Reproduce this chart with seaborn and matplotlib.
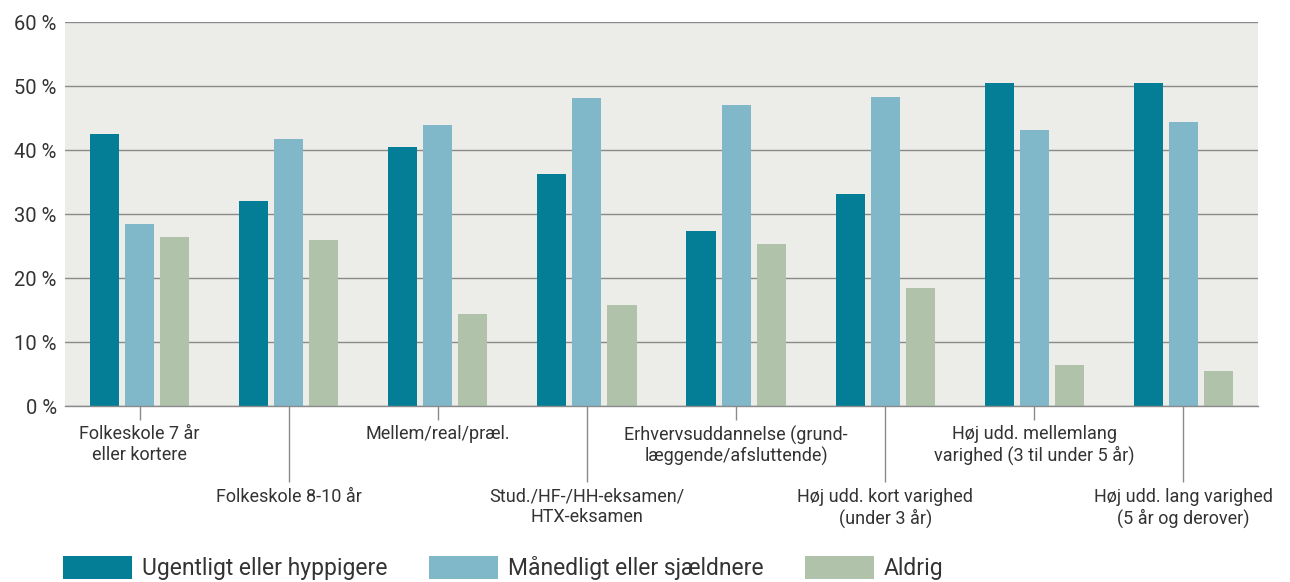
import matplotlib
matplotlib.use("Agg")
import matplotlib.pyplot as plt
import seaborn as sns
import pandas as pd
from matplotlib.ticker import FixedLocator

# Education levels (x categories)
categories = [
    "Folkeskole 7 år\neller kortere",
    "Folkeskole 8-10 år",
    "Mellem/real/præl.",
    "Stud./HF-/HH-eksamen/\nHTX-eksamen",
    "Erhvervsuddannelse (grund-\nlæggende/afsluttende)",
    "Høj udd. kort varighed\n(under 3 år)",
    "Høj udd. mellemlang\nvarighed (3 til under 5 år)",
    "Høj udd. lang varighed\n(5 år og derover)",
]

series_names = ["Ugentligt eller hyppigere", "Månedligt eller sjældnere", "Aldrig"]

ugentligt = [42.5, 32.0, 40.4, 36.2, 27.3, 33.1, 50.4, 50.4]
maanedligt = [28.5, 41.7, 43.9, 48.2, 47.0, 48.3, 43.1, 44.4]
aldrig = [26.4, 25.9, 14.4, 15.8, 25.3, 18.5, 6.4, 5.4]

y_ticks = [0, 10, 20, 30, 40, 50, 60]
y_tick_labels = ["0 %", "10 %", "20 %", "30 %", "40 %", "50 %", "60 %"]

colors = ["#037E96", "#80B8CA", "#B0C3AA"]

rows = []
for name, vals in zip(series_names, [ugentligt, maanedligt, aldrig]):
    for cat, v in zip(categories, vals):
        rows.append({"Uddannelse": cat, "Andel": v, "Hyppighed": name})
df = pd.DataFrame(rows)

sns.set_theme(style="white")
plt.rcParams["font.family"] = ["Roboto", "DejaVu Sans"]
text_color = "#333333"
grid_color = "#8a8a8a"

fig = plt.figure(figsize=(12.9, 5.82), dpi=100)
ax = fig.add_axes([65 / 1290, 1 - 406 / 582, (1258 - 65) / 1290, (406 - 22) / 582])
ax.set_facecolor("#ECECE8")

sns.barplot(
    data=df, x="Uddannelse", y="Andel", hue="Hyppighed",
    order=categories, hue_order=series_names, palette=colors,
    width=0.705, gap=0.17, ax=ax, saturation=1, linewidth=0,
)

handles, labels = ax.get_legend_handles_labels()
if ax.get_legend() is not None:
    ax.get_legend().remove()

ax.set_xlim(-0.5, len(categories) - 0.5)
ax.set_ylim(0, 60)
ax.set_yticks(y_ticks)
ax.set_yticklabels(y_tick_labels)
ax.yaxis.grid(True, color=grid_color, linewidth=1.0)
ax.xaxis.grid(False)
ax.set_axisbelow(True)
for side in ["left", "right", "top"]:
    ax.spines[side].set_visible(False)
ax.spines["bottom"].set_color(grid_color)
ax.spines["bottom"].set_linewidth(1.0)
ax.set_xlabel("")
ax.set_ylabel("")

ax.tick_params(axis="y", length=0, pad=6, labelsize=14.5, labelcolor=text_color)

# Alternate short and long ticks so the category labels sit on two rows
even_idx = list(range(0, len(categories), 2))
odd_idx = list(range(1, len(categories), 2))
ax.xaxis.set_major_locator(FixedLocator(even_idx))
ax.xaxis.set_minor_locator(FixedLocator(odd_idx))
ax.set_xticklabels([categories[i] for i in even_idx])
ax.set_xticklabels([categories[i] for i in odd_idx], minor=True)
ax.tick_params(axis="x", which="major", length=10, width=1, color=grid_color,
               pad=4, labelsize=13, labelcolor=text_color, bottom=True)
ax.tick_params(axis="x", which="minor", length=55, width=1, color=grid_color,
               pad=4, labelsize=13, labelcolor=text_color, bottom=True)
for lab in ax.get_xticklabels(which="both"):
    lab.set_multialignment("center")
    lab.set_linespacing(1.15)

fig.legend(
    handles, labels, loc="lower left", bbox_to_anchor=(63 / 1290, 2 / 582),
    ncol=3, frameon=False, fontsize=16.5, handlelength=3.0, handleheight=1.2,
    handletextpad=0.45, columnspacing=1.8, borderpad=0, borderaxespad=0,
    labelcolor=text_color,
)

fig.savefig("out.png", dpi=100)
